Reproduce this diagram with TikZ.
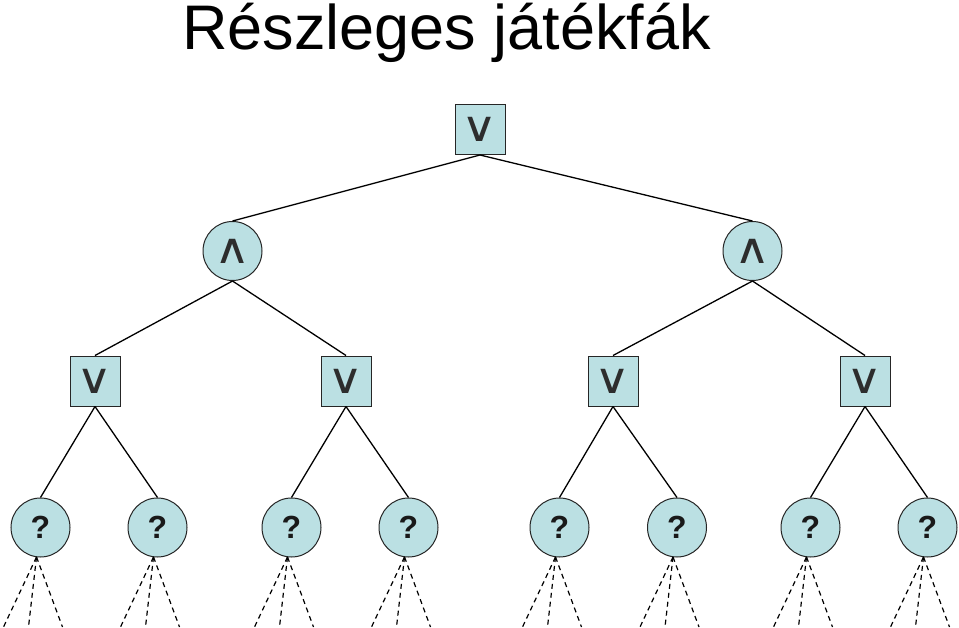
\documentclass[tikz,border=0pt]{standalone}
\usepackage{fontspec}
\setmainfont{Liberation Sans}
\newfontfamily\symfont{DejaVu Sans}
\definecolor{nodefill}{RGB}{187,224,227}
\definecolor{symcol}{RGB}{45,45,45}
\newcommand{\wideop}[1]{\scalebox{1.3}[1.1]{#1}}
\begin{document}
\begin{tikzpicture}[x=1pt,y=-1pt,
  maxnode/.style={draw=black!85,line width=1pt,fill=nodefill,minimum size=50pt,inner sep=0pt,text=symcol,font=\symfont\fontsize{38}{38}\selectfont},
  minnode/.style={circle,draw=black!85,line width=1pt,fill=nodefill,minimum size=59pt,inner sep=0pt,text=symcol,font=\symfont\fontsize{38}{38}\selectfont},
  leafnode/.style={circle,draw=black!85,line width=1pt,fill=nodefill,minimum size=59pt,inner sep=0pt,text=black!90,font=\bfseries\fontsize{32}{32}\selectfont},
  edge/.style={line width=1.3pt,black},
  dedge/.style={line width=1.2pt,black,dash pattern=on 5pt off 4pt}]
\useasboundingbox (0,0) rectangle (959,627);
\node[font=\fontsize{63}{63}\selectfont,anchor=base] (title) at (446.5,49.5) {Részleges játékfák};
\node[maxnode] (r) at (480,129.5) {\wideop{∨}};
\node[minnode] (a) at (232.5,251) {\wideop{∧}};
\node[minnode] (b) at (752.5,251) {\wideop{∧}};
\node[maxnode] (a1) at (95,381) {\wideop{∨}};
\node[maxnode] (a2) at (346,381) {\wideop{∨}};
\node[maxnode] (b1) at (613,381) {\wideop{∨}};
\node[maxnode] (b2) at (865,381) {\wideop{∨}};
\foreach \n/\x in {l1/40.5,l2/157.5,l3/291.5,l4/408.5,l5/559.5,l6/677,l7/810.5,l8/927.5}{
  \node[leafnode] (\n) at (\x,527.5) {?};
  \coordinate (\n s) at (\x-4,557);
  \coordinate (\n x1) at (\x-37,627);
  \coordinate (\n x2) at (\x-12,627);
  \coordinate (\n x3) at (\x+22,627);
  \draw[dedge] (\n s) -- (\n x1);
  \draw[dedge] (\n s) -- (\n x2);
  \draw[dedge] (\n s) -- (\n x3);
}
\draw[edge] (r.south) -- (a.north);
\draw[edge] (r.south) -- (b.north);
\draw[edge] (a.south) -- (a1.north);
\draw[edge] (a.south) -- (a2.north);
\draw[edge] (b.south) -- (b1.north);
\draw[edge] (b.south) -- (b2.north);
\draw[edge] (a1.south) -- (l1.north);
\draw[edge] (a1.south) -- (l2.north);
\draw[edge] (a2.south) -- (l3.north);
\draw[edge] (a2.south) -- (l4.north);
\draw[edge] (b1.south) -- (l5.north);
\draw[edge] (b1.south) -- (l6.north);
\draw[edge] (b2.south) -- (l7.north);
\draw[edge] (b2.south) -- (l8.north);
\end{tikzpicture}
\end{document}
